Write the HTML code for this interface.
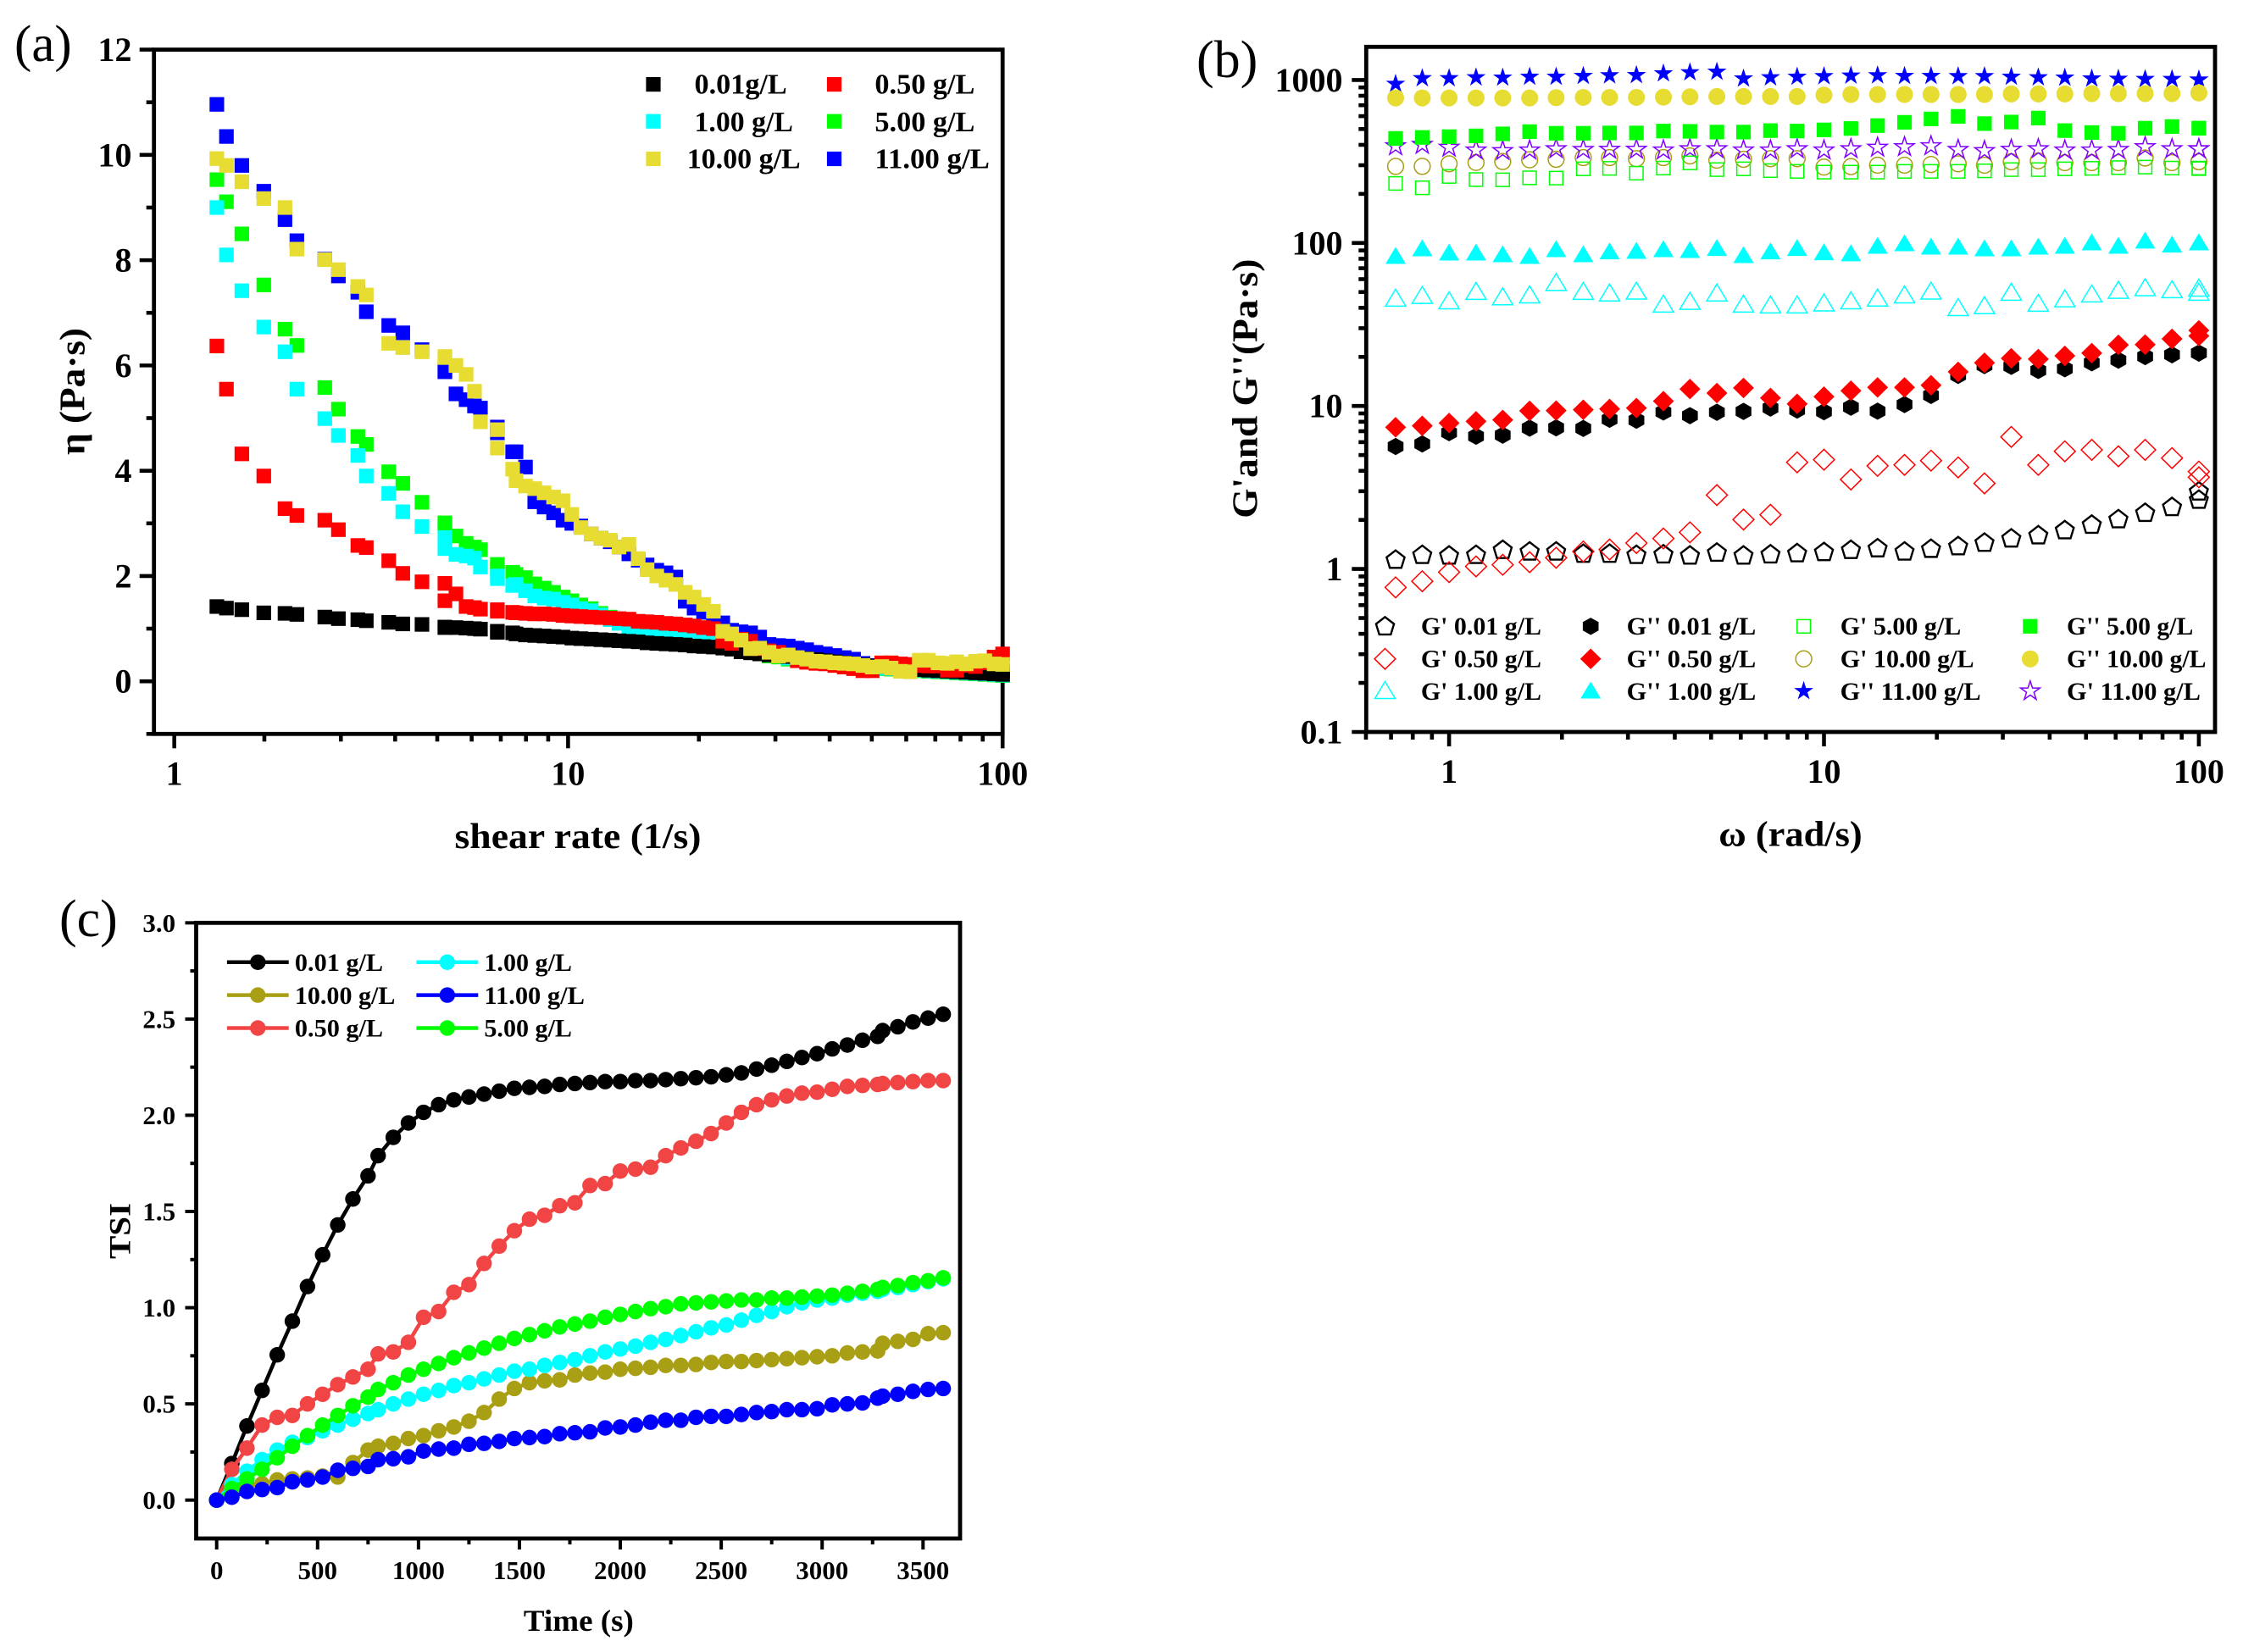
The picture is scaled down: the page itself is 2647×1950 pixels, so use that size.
<!DOCTYPE html>
<html lang="en">
<head>
<meta charset="utf-8">
<title>Rheology and TSI charts</title>
<style>
html,body{margin:0;padding:0;background:#fff;}
svg{display:block;}
text{font-family:"Liberation Serif","DejaVu Serif",serif;fill:#000;}
.b{font-weight:bold;}
</style>
</head>
<body>
<svg id="fig" xmlns="http://www.w3.org/2000/svg" width="2647" height="1950" viewBox="0 0 2647 1950">
<rect x="0" y="0" width="2647" height="1950" fill="#fff"/>

<g id="panelA"></g>
<g id="panelB"></g>
<g id="panelC"></g>

<g>
<text x="17" y="72" font-size="61">(a)</text>
<text x="1412" y="91" font-size="62">(b)</text>
<text x="70" y="1105" font-size="62">(c)</text>
</g>

<g class="b">
<text x="682" y="1001" font-size="42" text-anchor="middle" textLength="291" lengthAdjust="spacingAndGlyphs">shear rate (1/s)</text>
<text transform="translate(99.6,462) rotate(-90)" font-size="42" text-anchor="middle" textLength="150" lengthAdjust="spacingAndGlyphs">η (Pa·s)</text>
<text x="2113" y="998.7" font-size="42" text-anchor="middle" textLength="169.4" lengthAdjust="spacingAndGlyphs">ω (rad/s)</text>
<text transform="translate(1483.5,458.7) rotate(-90)" font-size="42" text-anchor="middle" textLength="306" lengthAdjust="spacingAndGlyphs">G&#39;and G&#39;&#39;(Pa·s)</text>
<text x="682.9" y="1925" font-size="36" text-anchor="middle" textLength="130" lengthAdjust="spacingAndGlyphs">Time (s)</text>
<text transform="translate(153.6,1453) rotate(-90)" font-size="36" text-anchor="middle" textLength="66" lengthAdjust="spacingAndGlyphs">TSI</text>
</g>

<g class="b" font-size="34">
<text x="819.5" y="110.7" textLength="109.2" lengthAdjust="spacingAndGlyphs">0.01g/L</text>
<text x="1032.4" y="110.7" textLength="118" lengthAdjust="spacingAndGlyphs">0.50 g/L</text>
<text x="819.5" y="155" textLength="116.4" lengthAdjust="spacingAndGlyphs">1.00 g/L</text>
<text x="1032.4" y="155" textLength="118" lengthAdjust="spacingAndGlyphs">5.00 g/L</text>
<text x="810.7" y="198.6" textLength="134" lengthAdjust="spacingAndGlyphs">10.00 g/L</text>
<text x="1032.4" y="198.6" textLength="135.5" lengthAdjust="spacingAndGlyphs">11.00 g/L</text>
</g>

<g class="b" font-size="30">
<text x="1676.9" y="749" textLength="142" lengthAdjust="spacingAndGlyphs">G&#39; 0.01 g/L</text>
<text x="1676.9" y="787.7" textLength="142" lengthAdjust="spacingAndGlyphs">G&#39; 0.50 g/L</text>
<text x="1676.9" y="826" textLength="142" lengthAdjust="spacingAndGlyphs">G&#39; 1.00 g/L</text>
<text x="1919.7" y="749" textLength="152.5" lengthAdjust="spacingAndGlyphs">G&#39;&#39; 0.01 g/L</text>
<text x="1919.7" y="787.7" textLength="152.5" lengthAdjust="spacingAndGlyphs">G&#39;&#39; 0.50 g/L</text>
<text x="1919.7" y="826" textLength="152.5" lengthAdjust="spacingAndGlyphs">G&#39;&#39; 1.00 g/L</text>
<text x="2171.7" y="749" textLength="142.6" lengthAdjust="spacingAndGlyphs">G&#39; 5.00 g/L</text>
<text x="2171.7" y="787.7" textLength="157.9" lengthAdjust="spacingAndGlyphs">G&#39; 10.00 g/L</text>
<text x="2171.7" y="826" textLength="165.9" lengthAdjust="spacingAndGlyphs">G&#39;&#39; 11.00 g/L</text>
<text x="2439" y="749" textLength="149.3" lengthAdjust="spacingAndGlyphs">G&#39;&#39; 5.00 g/L</text>
<text x="2439" y="787.7" textLength="164.5" lengthAdjust="spacingAndGlyphs">G&#39;&#39; 10.00 g/L</text>
<text x="2439" y="826" textLength="157.9" lengthAdjust="spacingAndGlyphs">G&#39; 11.00 g/L</text>
</g>

<g class="b" font-size="30">
<text x="347.9" y="1146" textLength="104.2" lengthAdjust="spacingAndGlyphs">0.01 g/L</text>
<text x="347.9" y="1185" textLength="118.5" lengthAdjust="spacingAndGlyphs">10.00 g/L</text>
<text x="347.9" y="1223.4" textLength="104.2" lengthAdjust="spacingAndGlyphs">0.50 g/L</text>
<text x="571.4" y="1146" textLength="103.6" lengthAdjust="spacingAndGlyphs">1.00 g/L</text>
<text x="571.4" y="1185" textLength="118.6" lengthAdjust="spacingAndGlyphs">11.00 g/L</text>
<text x="571.4" y="1223.4" textLength="103.6" lengthAdjust="spacingAndGlyphs">5.00 g/L</text>
</g>
</svg>

<script>
/* ---------- panel (a) data: viscosity vs shear rate ---------- */
const shearRate = [1.555,1.636,1.775,1.994,2.231,2.376,2.755,2.961,3.282,3.433,3.866,4.165,4.611,5.206,5.206,5.52,5.825,6.09,6.285,6.875,6.875,7.455,
7.59,7.98,8.38,8.81,9.26,9.73,10.2,10.7,11.3,11.9,12.5,13.1,13.8,14.5,15.2,16.0,16.8,17.7,18.6,19.5,20.5,21.6,22.7,23.8,25.0,26.3,27.6,29.0,30.5,32.1,33.7,35.4,37.2,39.1,41.1,43.2,45.4,47.7,50.1,52.7,55.4,58.2,61.2,64.3,67.5,71.0,74.6,78.4,82.4,86.6,91.0,95.6,100];
const etaConc001 = [1.42,1.39,1.36,1.30,1.29,1.27,1.22,1.19,1.17,1.15,1.12,1.09,1.08,1.03,1.02,1.02,1.01,1.00,.99,.95,.93,.92,
.90,.88,.87,.86,.85,.84,.82,.81,.80,.79,.78,.77,.76,.75,.73,.72,.71,.70,.69,.67,.66,.65,.63,.61,.56,.54,.52,.50,.48,.47,.45,.43,.41,.39,.37,.35,.33,.31,.29,.28,.26,.25,.24,.22,.21,.20,.19,.18,.17,.16,.15,.14,.13];
const etaConc050 = [6.37,5.55,4.32,3.90,3.28,3.15,3.06,2.88,2.58,2.54,2.29,2.05,1.89,1.86,1.53,1.66,1.42,1.40,1.37,1.36,1.33,1.31,
1.30,1.29,1.28,1.28,1.27,1.25,1.24,1.23,1.22,1.21,1.20,1.19,1.18,1.14,1.13,1.12,1.10,1.09,1.07,1.05,1.02,1.00,.76,.72,.80,.76,.62,.58,.55,.50,.39,.36,.34,.33,.30,.27,.24,.20,.20,.35,.35,.33,.32,.30,.29,.29,.21,.21,.30,.28,.35,.46,.52];
const etaConc100 = [9.0,8.10,7.42,6.73,6.26,5.55,4.99,4.67,4.29,3.90,3.57,3.22,2.94,2.73,2.52,2.41,2.38,2.34,2.17,2.00,1.95,1.82,
1.84,1.72,1.62,1.58,1.56,1.50,1.45,1.38,1.34,1.26,1.17,1.10,1.02,.98,.96,.94,.93,.92,.90,.88,.86,.82,.78,.72,.66,.60,.54,.50,.48,.44,.42,.40,.38,.36,.34,.32,.30,.28,.26,.25,.24,.23,.22,.21,.20,.19,.18,.17,.16,.15,.14,.13,.12];
const etaConc500 = [9.53,9.11,8.50,7.53,6.69,6.38,5.58,5.17,4.65,4.50,3.98,3.76,3.40,3.01,2.95,2.76,2.62,2.55,2.50,2.22,2.15,2.07,
2.03,1.97,1.85,1.77,1.69,1.60,1.53,1.45,1.38,1.29,1.22,1.15,1.08,1.02,.98,.95,.92,.90,.87,.85,.83,.80,.76,.70,.64,.58,.52,.48,.46,.42,.40,.38,.36,.34,.32,.30,.28,.26,.25,.24,.23,.22,.21,.20,.19,.18,.17,.16,.15,.14,.13,.12,.11];
const etaConc1100 = [10.96,10.35,9.80,9.31,8.77,8.37,8.02,7.70,7.39,7.02,6.76,6.62,6.30,5.90,5.88,5.46,5.35,5.23,5.19,4.83,4.72,4.36,
4.36,4.07,3.41,3.31,3.20,3.06,3.00,2.95,2.80,2.72,2.65,2.55,2.42,2.30,2.21,2.11,2.06,1.98,1.52,1.39,1.31,1.25,1.11,.97,.94,.92,.84,.70,.68,.67,.63,.60,.55,.52,.49,.45,.42,.34,.30,.28,.25,.25,.24,.24,.23,.23,.22,.22,.21,.21,.20,.20,.20];
const etaConc1000 = [9.93,9.80,9.49,9.17,9.00,8.21,8.01,7.82,7.50,7.34,6.42,6.34,6.26,6.17,6.15,6.00,5.83,5.51,4.93,4.78,4.43,4.03,
3.81,3.71,3.66,3.58,3.50,3.43,3.17,2.92,2.80,2.72,2.68,2.55,2.60,2.33,2.12,2.00,1.92,1.84,1.69,1.60,1.46,1.33,.95,.90,.78,.62,.63,.55,.48,.50,.45,.42,.38,.37,.35,.34,.33,.30,.27,.28,.25,.19,.18,.40,.40,.35,.34,.37,.33,.38,.39,.33,.32];
const aYMajorTicks = [0,2,4,6,8,10,12];
const aYMajorLabels = ["0","2","4","6","8","10","12"];
const aYMinorTicks = [-1,1,3,5,7,9,11];
const aXMajorTicks = [1.241,10,100];
const aXMajorLabels = ["1","10","100"];
const aXMinorTicks = [2,3,4,5,6,7,8,9,20,30,40,50,60,70,80,90];

/* ---------- panel (b) data: moduli vs angular frequency ---------- */
const omega = [0.72,0.848,1.0,1.18,1.39,1.64,1.93,2.28,2.68,3.16,3.73,4.39,5.18,6.1,7.2,8.48,10,11.8,13.9,16.4,19.3,22.8,26.8,31.6,37.3,43.9,51.8,61,71.9,84.8,100,100];
const gp001 = [1.14,1.22,1.21,1.22,1.31,1.28,1.28,1.24,1.24,1.22,1.23,1.21,1.26,1.21,1.23,1.25,1.27,1.31,1.34,1.28,1.33,1.38,1.45,1.54,1.61,1.73,1.87,2.02,2.21,2.40,2.66,2.99];
const gpp001 = [5.64,5.85,6.86,6.52,6.62,7.31,7.34,7.28,8.28,8.18,9.18,8.72,9.15,9.26,9.71,9.44,9.22,9.83,9.29,10.2,11.6,15.4,17.7,17.5,16.5,16.9,18.4,19.1,20.1,20.6,21.1,21.1];
const gp050 = [.771,.841,.956,1.036,1.061,1.10,1.172,1.28,1.316,1.442,1.537,1.678,2.84,2.01,2.15,4.51,4.68,3.54,4.29,4.35,4.62,4.20,3.35,6.46,4.35,5.27,5.38,4.91,5.38,4.79,3.96,3.65];
const gpp050 = [7.40,7.55,7.86,8.05,8.21,9.33,9.37,9.48,9.59,9.71,10.7,12.7,12.0,12.9,11.2,10.3,11.4,12.4,13.0,13.0,13.4,16.2,18.4,19.6,19.4,20.3,21.1,23.7,23.8,25.8,26.9,29.1];
const gp100 = [45.9,47.7,44.2,50.5,46.8,48.1,57.3,50.5,49.4,50.7,42.2,43.9,49.4,42.2,41.7,41.7,42.9,44.2,46,48.1,50.7,40.2,41.3,49.9,42.7,45.5,48.7,51.3,53.2,51.7,52.9,49.9];
const gpp100 = [83.4,92.9,87.5,87.5,85.4,83.4,91.8,85.4,88.9,89.6,91.8,90.7,93.3,84.4,88.9,93.3,87.9,86.5,96.3,99.8,95.1,95.1,92.9,92.9,95.1,96.3,101,96.3,103.5,97.8,101,101];
const gp1000 = [295,295,306,312,316,324,326,334,334,329,334,342,322,326,329,329,292,294,300,300,303,306,300,315,319,311,311,311,332,311,315,315];
const gp1100 = [397,405,389,374,371,374,381,377,378,378,374,381,381,374,374,381,374,381,389,392,397,377,371,378,381,374,374,377,392,381,381,381];
const gp500 = [232,218,256,245,244,251,250,285,287,268,288,310,282,285,278,275,272,272,272,275,275,275,277,282,282,285,287,290,292,288,288,286];
const gpp500 = [438,444,449,454,467,482,471,471,473,473,486,484,479,479,489,486,494,504,525,550,577,598,540,552,584,489,476,471,506,518,506,506];
const gpp1100 = [955,1034,1034,1047,1043,1056,1056,1068,1077,1081,1107,1124,1133,1030,1047,1056,1064,1073,1077,1068,1068,1064,1064,1056,1047,1043,1030,1026,1022,1022,1014,1014];
const gpp1000 = [776,776,776,776,776,776,779,782,782,782,785,789,792,792,792,792,808,815,815,815,815,815,815,821,821,821,825,825,825,825,833,833];
const bYMajorTicks = [0.1,1,10,100,1000];
const bYMajorLabels = ["0.1","1","10","100","1000"];
const bYMinorTicks = [0.2,0.3,0.4,0.5,0.6,0.7,0.8,0.9,2,3,4,5,6,7,8,9,20,30,40,50,60,70,80,90,200,300,400,500,600,700,800,900];
const bXMajorTicks = [1,10,100];
const bXMajorLabels = ["1","10","100"];
const bXMinorTicks = [0.6,0.7,0.8,0.9,2,3,4,5,6,7,8,9,20,30,40,50,60,70,80,90];

/* ---------- panel (c) data: TSI vs time ---------- */
const timeSeconds = [0,75,150,225,300,375,450,525,600,675,750,800,875,950,1025,1100,1175,1250,1325,1400,1475,1550,1625,1700,1775,1850,1925,2000,2075,2150,2225,2300,2375,2450,2525,2600,2675,2750,2825,2900,2975,3050,3125,3200,3275,3300,3375,3450,3525,3600];
const tsi001 = [0,.19,.385,.57,.755,.93,1.11,1.275,1.43,1.565,1.685,1.79,1.885,1.96,2.015,2.055,2.08,2.095,2.11,2.125,2.14,2.145,2.15,2.16,2.165,2.17,2.175,2.175,2.18,2.18,2.185,2.19,2.195,2.2,2.21,2.22,2.24,2.26,2.28,2.30,2.32,2.345,2.365,2.39,2.41,2.44,2.46,2.485,2.505,2.525];
const tsi050 = [0,.16,.27,.39,.43,.44,.50,.55,.60,.64,.68,.76,.77,.82,.95,.98,1.08,1.12,1.23,1.32,1.40,1.46,1.48,1.53,1.545,1.635,1.645,1.71,1.72,1.73,1.79,1.83,1.865,1.905,1.96,2.015,2.055,2.08,2.10,2.115,2.12,2.135,2.15,2.155,2.16,2.165,2.17,2.175,2.18,2.18];
const tsi1000 = [0,.05,.08,.085,.105,.11,.115,.125,.12,.195,.26,.28,.295,.32,.335,.36,.38,.41,.455,.525,.58,.61,.62,.625,.65,.66,.665,.68,.685,.69,.70,.70,.705,.715,.72,.72,.725,.73,.735,.74,.745,.75,.765,.77,.775,.815,.825,.835,.865,.87];
const tsi100 = [0,.08,.15,.21,.26,.30,.325,.36,.39,.42,.45,.47,.50,.525,.55,.57,.595,.61,.63,.65,.67,.68,.70,.715,.73,.75,.77,.785,.80,.82,.835,.855,.875,.895,.91,.935,.96,.98,1.005,1.025,1.04,1.05,1.065,1.075,1.085,1.095,1.105,1.12,1.135,1.15];
const tsi500 = [0,.06,.11,.16,.22,.28,.335,.39,.44,.49,.535,.575,.61,.65,.68,.71,.74,.765,.79,.815,.84,.86,.88,.90,.915,.93,.95,.965,.98,.995,1.005,1.02,1.025,1.03,1.035,1.04,1.04,1.05,1.05,1.055,1.06,1.065,1.075,1.085,1.095,1.105,1.115,1.13,1.14,1.155];
const tsi1100 = [0,.015,.045,.055,.065,.095,.105,.12,.155,.165,.175,.21,.215,.225,.255,.265,.27,.29,.295,.305,.32,.325,.33,.345,.35,.355,.375,.38,.39,.405,.415,.415,.43,.435,.435,.445,.455,.46,.47,.47,.475,.495,.50,.505,.53,.54,.55,.565,.575,.58];
const cYMajorTicks = [0,0.5,1,1.5,2,2.5,3];
const cYMajorLabels = ["0.0","0.5","1.0","1.5","2.0","2.5","3.0"];
const cYMinorTicks = [0.25,0.75,1.25,1.75,2.25,2.75];
const cXMajorTicks = [0,500,1000,1500,2000,2500,3000,3500];
const cXMajorLabels = ["0","500","1000","1500","2000","2500","3000","3500"];
const cXMinorTicks = [250,750,1250,1750,2250,2750,3250];

/* ---------- helpers ---------- */
const SVGNS = "http://www.w3.org/2000/svg";
function make(tag, attrs, parent) {
  const e = document.createElementNS(SVGNS, tag);
  for (const k in attrs) e.setAttribute(k, attrs[k]);
  parent.appendChild(e);
  return e;
}
const COLORS = {black:"#000000",red:"#ff0000",cyan:"#00ffff",green:"#00ff00",yellow:"#e6dc32",blue:"#0000ff",purple:"#8000ff",olive:"#a99f14",coral:"#f14545"};

function shapePoints(shape) {
  if (shape === "diamond") return [[0,-12.2],[12.4,0],[0,12.2],[-12.4,0]];
  if (shape === "triangle") return [[0,-10.5],[12,9.5],[-12,9.5]];
  if (shape === "hexagon") return [[0,-10.2],[9.3,-5],[9.3,5],[0,10.2],[-9.3,5],[-9.3,-5]];
  if (shape === "pentagon") return [[0,-11],[10.6,-2.8],[6.8,9.6],[-6.8,9.6],[-10.6,-2.8]];
  if (shape === "star") {
    const p = [];
    for (let i = 0; i < 10; i++) {
      const r = i % 2 ? 4.6 : 12;
      const a = -Math.PI / 2 + i * Math.PI / 5;
      p.push([r * Math.cos(a), r * Math.sin(a) + 0.8]);
    }
    return p;
  }
  return null;
}
function marker(parent, shape, cx, cy, color, filled) {
  const fill = filled ? color : "none";
  const stroke = filled ? "none" : color;
  const sw = filled ? 0 : (color === COLORS.black ? 2.4 : 1.5);
  if (shape === "square") {
    const half = filled ? 8.6 : 7.9;
    return make("rect", {x:cx-half, y:cy-half, width:half*2, height:half*2, fill:fill, stroke:stroke, "stroke-width":sw}, parent);
  }
  if (shape === "circle") {
    return make("ellipse", {cx:cx, cy:cy, rx:filled?10:9.4, ry:filled?10:9.4, fill:fill, stroke:stroke, "stroke-width":sw}, parent);
  }
  const pts = shapePoints(shape).map(function (q) { return (cx + q[0]).toFixed(2) + "," + (cy + q[1]).toFixed(2); }).join(" ");
  return make("polygon", {points:pts, fill:fill, stroke:stroke, "stroke-width":sw}, parent);
}

function drawAxes(parent, box, xPos, yPos, spec) {
  const frame = make("rect", {x:box.left, y:box.top, width:box.right-box.left, height:box.bottom-box.top, fill:"none", stroke:"#000", "stroke-width":box.frame}, parent);
  
  

  const ticks = make("g", {stroke:"#000", "stroke-width":box.tickWidth}, parent);
  
  
  const labels = make("g", {"class":"b", "font-size":box.font}, parent);
  
  

  spec.xMajor.forEach(function (v, i) {
    const x = xPos(v);
    const t = make("line", {x1:x, x2:x, y1:box.bottom, y2:box.bottom+box.major}, ticks);
    
    
    const lab = make("text", {x:x, y:box.xLabelY, "text-anchor":"middle"}, labels);
    lab.textContent = spec.xLabels[i];
    
    
  });
  spec.xMinor.forEach(function (v) {
    const x = xPos(v);
    const t = make("line", {x1:x, x2:x, y1:box.bottom, y2:box.bottom+box.minor}, ticks);
    
    
  });
  spec.yMajor.forEach(function (v, i) {
    const y = yPos(v);
    const t = make("line", {x1:box.left-box.major, x2:box.left, y1:y, y2:y}, ticks);
    
    
    const lab = make("text", {x:box.yLabelX, y:y+box.yLabelDy, "text-anchor":"end"}, labels);
    lab.textContent = spec.yLabels[i];
    
    
  });
  spec.yMinor.forEach(function (v) {
    const y = yPos(v);
    const t = make("line", {x1:box.left-box.minor, x2:box.left, y1:y, y2:y}, ticks);
    
    
  });
}

function scatter(parent, seriesName, xs, ys, xPos, yPos, shape, color, filled) {
  const g = make("g", {}, parent);
  
  
  ys.forEach(function (v, i) {
    const m = marker(g, shape, xPos(xs[i]), yPos(v), color, filled);
    
    
  });
}

/* ---------- panel (a) ---------- */
(function () {
  const root = document.getElementById("panelA");
  const box = {left:181.7, right:1183.2, top:58.6, bottom:866.3, frame:4.8, tickWidth:4.6, major:17, minor:9, font:40, xLabelY:926.7, yLabelX:155.5, yLabelDy:13.5};
  const x = function (v) { return 670.4 + 512.8 * (Math.log10(v) - 1); };
  const y = function (v) { return box.bottom - (v + 1) * (box.bottom - box.top) / 13; };
  drawAxes(root, box, x, y, {xMajor:aXMajorTicks, xLabels:aXMajorLabels, xMinor:aXMinorTicks, yMajor:aYMajorTicks, yLabels:aYMajorLabels, yMinor:aYMinorTicks});
  scatter(root, "eta-5-00", shearRate, etaConc500, x, y, "square", COLORS.green, true);
  scatter(root, "eta-1-00", shearRate, etaConc100, x, y, "square", COLORS.cyan, true);
  scatter(root, "eta-11-00", shearRate, etaConc1100, x, y, "square", COLORS.blue, true);
  scatter(root, "eta-0-01", shearRate, etaConc001, x, y, "square", COLORS.black, true);
  scatter(root, "eta-0-50", shearRate, etaConc050, x, y, "square", COLORS.red, true);
  scatter(root, "eta-10-00", shearRate, etaConc1000, x, y, "square", COLORS.yellow, true);

  const lg = make("g", {}, root);
  
  
  const m1 = marker(lg, "square", 771, 99.6, COLORS.black, true);
  
  
  const m2 = marker(lg, "square", 984.5, 99.6, COLORS.red, true);
  
  
  const m3 = marker(lg, "square", 771, 143.2, COLORS.cyan, true);
  
  
  const m4 = marker(lg, "square", 984.5, 143.2, COLORS.green, true);
  
  
  const m5 = marker(lg, "square", 771, 187.5, COLORS.yellow, true);
  
  
  const m6 = marker(lg, "square", 984.5, 187.5, COLORS.blue, true);
  
  
})();

/* ---------- panel (b) ---------- */
(function () {
  const root = document.getElementById("panelB");
  const box = {left:1612.3, right:2614, top:55.3, bottom:864, frame:4.8, tickWidth:4.6, major:17, minor:9, font:40, xLabelY:924, yLabelX:1584.5, yLabelDy:13.5};
  const x = function (v) { return 1710.1 + 442.4 * Math.log10(v); };
  const y = function (v) { return box.bottom - 192.4 * (Math.log10(v) + 1); };
  drawAxes(root, box, x, y, {xMajor:bXMajorTicks, xLabels:bXMajorLabels, xMinor:bXMinorTicks, yMajor:bYMajorTicks, yLabels:bYMajorLabels, yMinor:bYMinorTicks});
  scatter(root, "gp-0-01", omega, gp001, x, y, "pentagon", COLORS.black, false);
  scatter(root, "gpp-0-01", omega, gpp001, x, y, "hexagon", COLORS.black, true);
  scatter(root, "gp-0-50", omega, gp050, x, y, "diamond", COLORS.red, false);
  scatter(root, "gpp-0-50", omega, gpp050, x, y, "diamond", COLORS.red, true);
  scatter(root, "gp-1-00", omega, gp100, x, y, "triangle", COLORS.cyan, false);
  scatter(root, "gpp-1-00", omega, gpp100, x, y, "triangle", COLORS.cyan, true);
  scatter(root, "gp-10-00", omega, gp1000, x, y, "circle", COLORS.olive, false);
  scatter(root, "gp-11-00", omega, gp1100, x, y, "star", COLORS.purple, false);
  scatter(root, "gp-5-00", omega, gp500, x, y, "square", COLORS.green, false);
  scatter(root, "gpp-5-00", omega, gpp500, x, y, "square", COLORS.green, true);
  scatter(root, "gpp-11-00", omega, gpp1100, x, y, "star", COLORS.blue, true);
  scatter(root, "gpp-10-00", omega, gpp1000, x, y, "circle", COLORS.yellow, true);

  const lg = make("g", {}, root);
  
  
  const a1 = marker(lg, "pentagon", 1634.5, 739.3, COLORS.black, false);
  
  
  const a2 = marker(lg, "diamond", 1634.5, 777.7, COLORS.red, false);
  
  
  const a3 = marker(lg, "triangle", 1634.5, 815, COLORS.cyan, false);
  
  
  const b1 = marker(lg, "hexagon", 1877.2, 739.3, COLORS.black, true);
  
  
  const b2 = marker(lg, "diamond", 1877.2, 777.7, COLORS.red, true);
  
  
  const b3 = marker(lg, "triangle", 1877.2, 815, COLORS.cyan, true);
  
  
  const c1 = marker(lg, "square", 2128.6, 739.3, COLORS.green, false);
  
  
  const c2 = marker(lg, "circle", 2128.6, 777.7, COLORS.olive, false);
  
  
  const c3 = marker(lg, "star", 2128.6, 815, COLORS.blue, true);
  
  
  const d1 = marker(lg, "square", 2395.9, 739.3, COLORS.green, true);
  
  
  const d2 = marker(lg, "circle", 2395.9, 777.7, COLORS.yellow, true);
  
  
  const d3 = marker(lg, "star", 2395.9, 815, COLORS.purple, false);
  
  
})();

/* ---------- panel (c) ---------- */
(function () {
  const root = document.getElementById("panelC");
  const box = {left:231.5, right:1133, top:1089.3, bottom:1816, frame:4.8, tickWidth:4, major:13, minor:7, font:31, xLabelY:1864, yLabelX:207.1, yLabelDy:10.5};
  const x = function (v) { return 255.7 + v * 0.23817; };
  const y = function (v) { return 1770.7 - v * 227.13; };
  drawAxes(root, box, x, y, {xMajor:cXMajorTicks, xLabels:cXMajorLabels, xMinor:cXMinorTicks, yMajor:cYMajorTicks, yLabels:cYMajorLabels, yMinor:cYMinorTicks});

  function lineSeries(seriesName, ys, color) {
    const g = make("g", {}, root);
    
    
    const pts = ys.map(function (v, i) { return x(timeSeconds[i]).toFixed(2) + "," + y(v).toFixed(2); }).join(" ");
    const line = make("polyline", {points:pts, fill:"none", stroke:color, "stroke-width":4.5}, g);
    
    
    ys.forEach(function (v, i) {
      const c = make("circle", {cx:x(timeSeconds[i]), cy:y(v), r:9.2, fill:color}, g);
      
      
    });
  }
  lineSeries("tsi-0-01", tsi001, COLORS.black);
  lineSeries("tsi-0-50", tsi050, COLORS.coral);
  lineSeries("tsi-10-00", tsi1000, COLORS.olive);
  lineSeries("tsi-1-00", tsi100, COLORS.cyan);
  lineSeries("tsi-5-00", tsi500, COLORS.green);
  lineSeries("tsi-11-00", tsi1100, COLORS.blue);

  function legendKey(name, x1, x2, yy, color) {
    const g = make("g", {}, root);
    
    
    make("line", {x1:x1, x2:x2, y1:yy, y2:yy, stroke:color, "stroke-width":4.5}, g);
    make("circle", {cx:(x1+x2)/2, cy:yy, r:9.2, fill:color}, g);
  }
  legendKey("legend-key-0-01", 267.9, 340.7, 1135.8, COLORS.black);
  legendKey("legend-key-10-00", 267.9, 340.7, 1174.6, COLORS.olive);
  legendKey("legend-key-0-50", 267.9, 340.7, 1213.5, COLORS.coral);
  legendKey("legend-key-1-00", 491.4, 564.3, 1135.8, COLORS.cyan);
  legendKey("legend-key-11-00", 491.4, 564.3, 1174.6, COLORS.blue);
  legendKey("legend-key-5-00", 491.4, 564.3, 1213.5, COLORS.green);
})();
</script>
</body>
</html>
